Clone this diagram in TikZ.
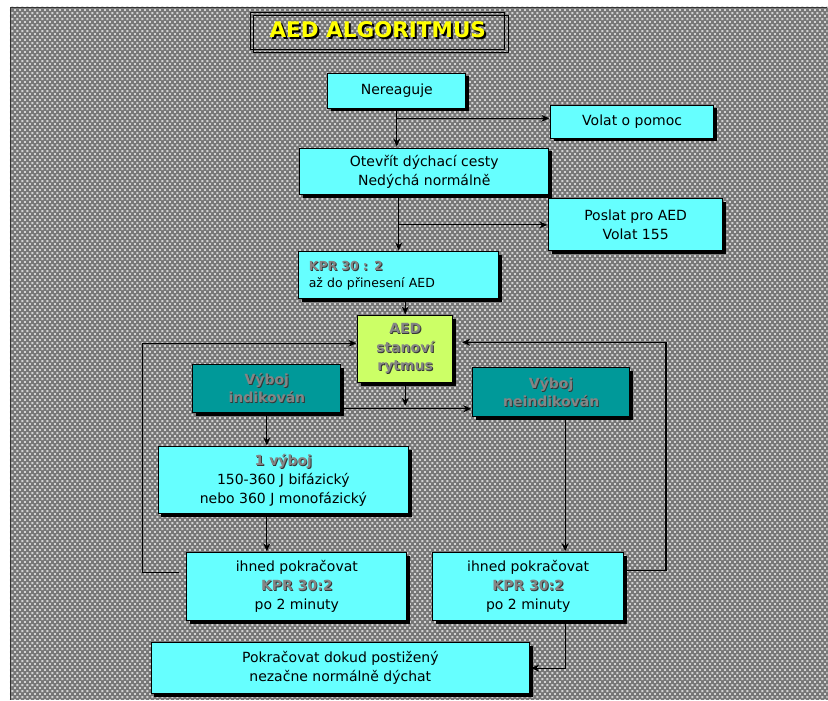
\documentclass[tikz,border=0pt]{standalone}
\usepackage{fontspec}
\setmainfont{DejaVu Sans}
\usetikzlibrary{arrows.meta, shadows, patterns.meta}

\definecolor{boxcyan}{HTML}{66FFFF}
\definecolor{boxteal}{HTML}{009999}
\definecolor{boxlime}{HTML}{CCFF66}
\definecolor{bggray}{HTML}{777777}
\definecolor{dotgray}{HTML}{D2D2D2}
\definecolor{embgray}{HTML}{858585}
\definecolor{embdark}{HTML}{353535}
\definecolor{headyellow}{HTML}{FFFF00}

% raised grey lettering
\newcommand{\embtext}[1]{\makebox[0pt][l]{\hspace{0.9pt}\raisebox{-0.9pt}{\textcolor{embdark}{#1}}}\textcolor{embgray}{#1}}
% yellow heading with hard shadow
\newcommand{\headtext}[1]{\makebox[0pt][l]{\hspace{2pt}\raisebox{-2pt}{\textcolor{black}{#1}}}\textcolor{headyellow}{#1}}

\tikzdeclarepattern{
  name = dotgrid,
  type = uncolored,
  bounding box = {(0pt,0pt) and (5pt,6pt)},
  tile size = {(5pt,6pt)},
  code = {
    \fill (0pt,0pt) rectangle (1.8pt,1.8pt);
    \fill (2.5pt,3pt) rectangle (4.3pt,4.8pt);
  }
}

\begin{document}
\begin{tikzpicture}[
            x = 1pt, y = -1pt, % pixel grid, y runs downwards
            > = {Stealth[length=8pt, width=7pt]}, % arrow head style
            shorten > = 1pt, % don't touch arrow head to node
            semithick % line style
        ]

        \tikzstyle{box}=[
            draw = black,
            line width = 0.8pt,
            fill = boxcyan,
            drop shadow = {shadow xshift=3pt, shadow yshift=-3pt, fill=black, opacity=1},
            inner sep = 0pt,
            align = center,
            font = \fontsize{14}{19}\selectfont
        ]
        \tikzstyle{link}=[->, draw=black, line width=1.1pt]

	% dotted backdrop
	\fill[white] (0,0) rectangle (828,700);
	\fill[bggray] (10,7) rectangle (828,700);
	\fill[pattern=dotgrid, pattern color=dotgray] (10,7) rectangle (828,700);
	\draw[black!80, line width=1pt] (10.5,700) -- (10.5,7.5) -- (828,7.5);
	\useasboundingbox (0,0) rectangle (828,700);

	% heading
	\node[draw=black, line width=0.8pt, minimum width=254pt, minimum height=37pt, inner sep=0pt,
	      font=\fontsize{21.5}{26}\bfseries\selectfont] (head) at (378,30.5) {\headtext{AED ALGORITMUS}};
	\draw[line width=0.8pt] ([xshift=3pt,yshift=-3.5pt]head.north west) rectangle ([xshift=3pt,yshift=-3.5pt]head.south east);

	\node[box, minimum width=138pt, minimum height=35pt] (nere) at (397,90.5) {Nereaguje};
	\node[box, minimum width=163pt, minimum height=33pt] (pomoc) at (632.5,121.5) {Volat o pomoc};
	\node[box, minimum width=249pt, minimum height=47pt] (cesty) at (424.5,171.5) {Otevřít dýchací cesty\\Nedýchá normálně};
	\node[box, minimum width=174pt, minimum height=52pt] (poslat) at (636,225) {Poslat pro AED\\Volat 155};
	\node[box, minimum width=200pt, minimum height=47pt, align=left, text width=180pt,
	      font=\fontsize{12.5}{17}\selectfont] (kpr) at (399,275.5) {\embtext{\textbf{KPR 30 : 2}}\\až do přinesení AED};
	\node[box, fill=boxlime, minimum width=95pt, minimum height=67pt,
	      font=\fontsize{14}{18.5}\bfseries\selectfont] (aed) at (405.5,349.5) {\embtext{AED}\\\embtext{stanoví}\\\embtext{rytmus}};
	\node[box, fill=boxteal, minimum width=148pt, minimum height=48pt,
	      font=\fontsize{14}{18}\bfseries\selectfont] (ind) at (267,389) {\embtext{Výboj}\\\embtext{indikován}};
	\node[box, fill=boxteal, minimum width=157pt, minimum height=49pt,
	      font=\fontsize{14}{18}\bfseries\selectfont] (neind) at (551.5,392.5) {\embtext{Výboj}\\\embtext{neindikován}};
	\node[box, minimum width=251pt, minimum height=67pt] (vyboj) at (283.5,480.5) {\embtext{\textbf{1 výboj}}\\150-360 J bifázický\\nebo 360 J monofázický};
	\node[box, minimum width=220pt, minimum height=68pt] (pokL) at (297,587) {ihned pokračovat\\\embtext{\textbf{KPR 30:2}}\\po 2 minuty};
	\node[box, minimum width=191pt, minimum height=68pt] (pokR) at (528.5,587) {ihned pokračovat\\\embtext{\textbf{KPR 30:2}}\\po 2 minuty};
	\node[box, minimum width=379pt, minimum height=51pt] (dokud) at (340.5,668.5) {Pokračovat dokud postižený\\nezačne normálně dýchat};

	\coordinate (split) at (405.5,407);

	\draw[link] (nere.south) -- (nere.south |- cesty.north);
	\draw[link] ([yshift=-10pt]nere.south) -- ([yshift=-10pt]nere.south -| pomoc.west);
	\draw[link] (cesty.south -| kpr.north) -- (kpr.north);
	\draw[link] (kpr.north |- poslat.west) -- (poslat.west);
	\draw[link] (kpr.south -| aed.north) -- (aed.north);
	\draw[link] (aed.south) -- (split);
	\draw[link] ([yshift=-20pt]ind.east) -- ([yshift=-20pt]ind.east -| neind.west);
	\draw[link] (ind.south) -- (ind.south |- vyboj.north);
	\draw[link] (vyboj.south -| ind.south) -- (ind.south |- pokL.north);
	\draw[link] ([xshift=14pt]neind.south) -- ([xshift=14pt]neind.south |- pokR.north);

	\draw[link] ([xshift=-7pt,yshift=14pt]pokL.west) -- ++(-37,0) |- ([yshift=6pt]aed.west);
	\draw[link] ([yshift=16pt]pokR.east) -- ++(42,0) |- ([xshift=8pt,yshift=7pt]aed.east);
	\draw[link] ([xshift=37pt]pokR.south) |- (dokud.east);

    \end{tikzpicture}
\end{document}
